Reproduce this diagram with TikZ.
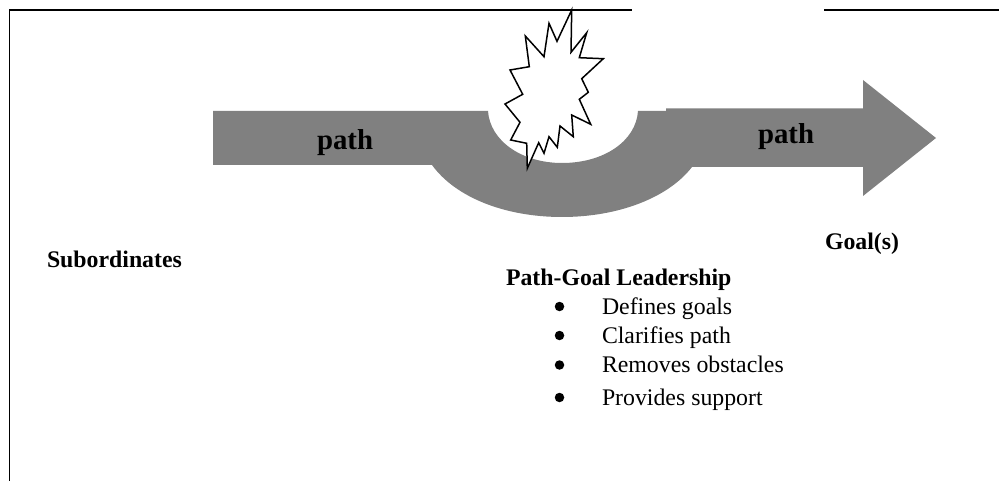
\documentclass[tikz,border=0pt]{standalone}
\usepackage{fontspec}
\setmainfont{Liberation Serif}
\definecolor{pathgray}{RGB}{128,128,128}
\newcommand{\bodyfont}{\fontsize{23.8}{28}\selectfont}
\newcommand{\pathfont}{\fontsize{28.8}{34}\selectfont\bfseries}
\tikzset{
  framing/.style={line width=1.8pt, color=black},
  label/.style={anchor=base west, inner sep=0pt, outer sep=0pt, font=\bodyfont},
  heading/.style={label, font=\bodyfont\bfseries},
  pathlabel/.style={label, font=\pathfont},
  dotmark/.style={circle, fill=black, inner sep=0pt, minimum size=9.5pt}
}

\begin{document}
\begin{tikzpicture}[x=1pt, y=-1pt]
    \useasboundingbox (0,0) rectangle (999,481);
    % frame, open at the top right
    \coordinate (frameLow) at (9.5,481);
    \coordinate (frameCorner) at (9.5,10);
    \coordinate (frameEnd) at (632,10);
    \coordinate (frameRestA) at (824,10);
    \coordinate (frameRestB) at (999,10);
    \draw[framing] (frameLow) -- (frameCorner) -- (frameEnd);
    \draw[framing] (frameRestA) -- (frameRestB);

    % the path, with its detour under the obstacle
    \fill[color=pathgray] (213,111) -- (488,111)
      .. controls (490,141) and (522,163) .. (562,163)
      .. controls (604,163) and (636,141) .. (638,111)
      -- (666,111) -- (666,108.5) -- (863,108.5) -- (863,80) -- (936,138)
      -- (863,196) -- (863,167) -- (692,167)
      .. controls (668,198) and (618,217) .. (562,217)
      .. controls (506,217) and (456,198) .. (432,165)
      -- (213,165) -- cycle;

    % obstacle
    \draw[line width=1.5pt, fill=white, line join=miter] (571.7,10)
      -- (571,52.3) -- (586.7,32.7) -- (579.3,57.7) -- (603.3,58.7)
      -- (581.7,78.7) -- (588.3,92.3) -- (579.3,99.3) -- (590.7,124.3)
      -- (571.7,115) -- (573.3,136.7) -- (560,126) -- (557.3,147.3)
      -- (549,136.7) -- (544,153.3) -- (538.7,142.7) -- (527.3,168.3)
      -- (526.7,143.3) -- (510.7,140) -- (520,122.3) -- (505,104)
      -- (522.7,94.3) -- (510,70) -- (529.3,66.7) -- (525.3,36)
      -- (544,56.7) -- (549,23.3) -- (557,41.3) -- cycle;

    \node[pathlabel] (pathLeft) at (317,150) {path};
    \node[pathlabel] (pathRight) at (758,144) {path};
    \node[heading] (goals) at (825,250) {Goal(s)};
    \node[heading] (subordinates) at (47,268) {Subordinates};
    \node[heading] (leadership) at (506,286) {Path-Goal Leadership};

    \foreach \y/\name/\txt in {314/defines/Defines goals, 343/clarifies/Clarifies path,
      372.5/removes/Removes obstacles, 405/provides/Provides support}
    {
      \node[dotmark] (bullet\name) at (559.5,\y-7.5) {};
      \node[label] (item\name) at (602,\y) {\txt};
    }
\end{tikzpicture}
\end{document}
